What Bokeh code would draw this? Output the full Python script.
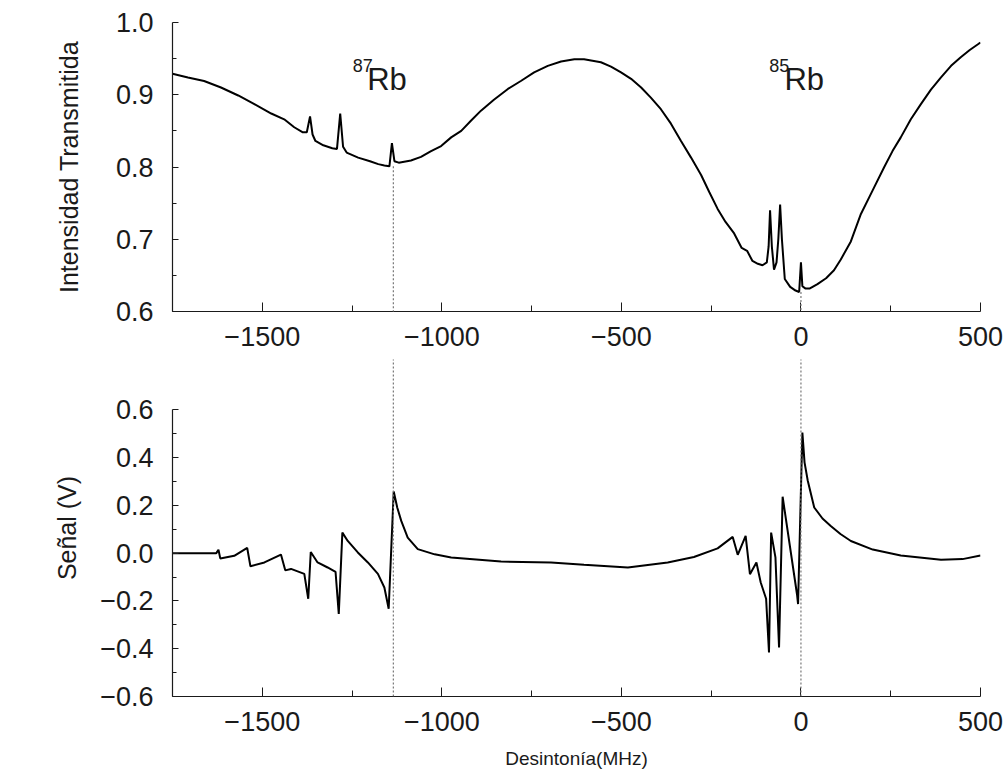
from bokeh.plotting import figure
from bokeh.layouts import column
from bokeh.models import Range1d, FixedTicker, CustomJSTickFormatter, Label, Arrow
from bokeh.embed import file_html
from bokeh.resources import INLINE

# ---------------- data ----------------
top_x = [-1750, -1707, -1662, -1615, -1567, -1522, -1475, -1439, -1411, -1387,
         -1376, -1367, -1360, -1352, -1330, -1305, -1292, -1283, -1275, -1265, -1233,
         -1200, -1177, -1160, -1146, -1139, -1132, -1120, -1086, -1058, -1030, -1002,
         -974, -946, -919, -891, -855, -816, -780, -743, -705, -668, -631, -604, -557,
         -529, -501, -473, -445, -418, -390, -362, -334, -306, -278, -255, -232, -210,
         -186, -165, -150, -135, -120, -107, -95, -90, -86, -81, -75, -68, -63, -58,
         -53, -45, -30, -15, -5, 0, 4, 12, 25, 46, 70, 92, 111, 139, 167, 200, 232,
         255, 278, 306, 334, 362, 390, 418, 445, 470, 496, 500]
top_y = [0.929, 0.924, 0.919, 0.910, 0.899, 0.887, 0.874, 0.866, 0.855, 0.848,
         0.848, 0.870, 0.845, 0.836, 0.830, 0.826, 0.825, 0.874, 0.828, 0.820, 0.813,
         0.808, 0.804, 0.802, 0.801, 0.833, 0.808, 0.806, 0.809, 0.814, 0.822, 0.829,
         0.841, 0.850, 0.864, 0.878, 0.893, 0.908, 0.919, 0.931, 0.940, 0.946, 0.949,
         0.949, 0.945, 0.939, 0.931, 0.922, 0.910, 0.896, 0.880, 0.860, 0.836, 0.813,
         0.789, 0.765, 0.742, 0.724, 0.708, 0.688, 0.684, 0.670, 0.666, 0.664, 0.668,
         0.690, 0.740, 0.690, 0.658, 0.668, 0.700, 0.748, 0.700, 0.645, 0.634, 0.629,
         0.627, 0.668, 0.635, 0.632, 0.632, 0.638, 0.646, 0.657, 0.672, 0.697, 0.735,
         0.768, 0.800, 0.822, 0.841, 0.866, 0.887, 0.907, 0.924, 0.940, 0.952, 0.962,
         0.971, 0.972]

bot_x = [-1750, -1700, -1628, -1622, -1617, -1578, -1542, -1533, -1494, -1448,
         -1436, -1420, -1383, -1372, -1365, -1346, -1318, -1296, -1287, -1277, -1262,
         -1234, -1206, -1178, -1160, -1148, -1134, -1124, -1113, -1095, -1067, -1020,
         -974, -835, -696, -604, -482, -371, -298, -232, -190, -176, -154, -142, -124,
         -112, -97, -89, -83, -71, -61, -51, -11, -8, 4, 10, 19, 37, 60, 83, 110, 139,
         200, 278, 390, 450, 500]
bot_y = [0.000, 0.000, 0.000, 0.014, -0.022, -0.011, 0.022, -0.055, -0.039, -0.006,
         -0.072, -0.066, -0.087, -0.191, 0.005, -0.039, -0.060, -0.078, -0.254, 0.086,
         0.051, 0.003, -0.039, -0.087, -0.144, -0.233, 0.258, 0.190, 0.135, 0.065, 0.017,
         -0.005, -0.018, -0.035, -0.039, -0.049, -0.060, -0.039, -0.016, 0.020, 0.068,
         -0.007, 0.072, -0.088, -0.039, -0.123, -0.191, -0.416, 0.086, -0.018, -0.395,
         0.236, -0.172, -0.213, 0.505, 0.380, 0.303, 0.191, 0.145, 0.114, 0.080, 0.051,
         0.015, -0.010, -0.028, -0.025, -0.010]

# resonance markers (MHz) and where the dotted lines start in panel (a)
marker_x = [-1135, 0]
marker_top_y = [0.801, 0.627]

x_ticks = [-1500, -1000, -500, 0, 500]
x_tick_labels = ["\u22121500", "\u22121000", "\u2212500", "0", "500"]
x_minor = [-1750, -1250, -750, -250, 250]

top_y_ticks = [0.6, 0.7, 0.8, 0.9, 1.0]
top_y_labels = ["0.6", "0.7", "0.8", "0.9", "1.0"]
top_y_minor = [0.65, 0.75, 0.85, 0.95]

bot_y_ticks = [-0.6, -0.4, -0.2, 0.0, 0.2, 0.4, 0.6]
bot_y_labels = ["\u22120.6", "\u22120.4", "\u22120.2", "0.0", "0.2", "0.4", "0.6"]
bot_y_minor = [-0.5, -0.3, -0.1, 0.1, 0.3, 0.5]

FONT = "Liberation Sans"
INK = "#1a1a1a"

JS = """
for (let i = 0; i < tv.length; i++) {
  if (Math.abs(tv[i] - tick) < 1e-6) { return tl[i]; }
}
return "";
"""


def fmt(tick_vals, tick_labels):
    return CustomJSTickFormatter(args=dict(tv=tick_vals, tl=tick_labels), code=JS)


def style(p):
    p.outline_line_color = None
    p.xgrid.visible = False
    p.ygrid.visible = False
    p.background_fill_color = "white"
    p.border_fill_color = "white"
    for ax in p.axis:
        ax.axis_line_color = INK
        ax.axis_line_width = 1.2
        ax.major_tick_line_color = INK
        ax.minor_tick_line_color = INK
        ax.major_tick_out = 0
        ax.minor_tick_out = 0
        ax.major_label_text_font = FONT
        ax.major_label_text_font_size = "27px"
        ax.major_label_text_color = INK
        ax.axis_label_text_font = FONT
        ax.axis_label_text_font_style = "normal"
        ax.axis_label_text_color = INK
    p.xaxis.major_tick_in = 9
    p.xaxis.minor_tick_in = 6
    p.yaxis.major_tick_in = 6
    p.yaxis.minor_tick_in = 4
    p.xaxis.ticker = FixedTicker(ticks=x_ticks, minor_ticks=x_minor)
    p.xaxis.formatter = fmt(x_ticks, x_tick_labels)
    p.xaxis.major_label_standoff = 15
    p.yaxis.major_label_standoff = 19


# ---------------- panel (a) ----------------
p1 = figure(width=1006, height=359, x_range=Range1d(-1750, 500), y_range=Range1d(0.6, 1.0),
            output_backend="svg", toolbar_location=None,
            min_border_left=172, min_border_right=26, min_border_top=22, min_border_bottom=48)
style(p1)
p1.yaxis.ticker = FixedTicker(ticks=top_y_ticks, minor_ticks=top_y_minor)
p1.yaxis.formatter = fmt(top_y_ticks, top_y_labels)
p1.yaxis.axis_label = "Intensidad Transmitida"
p1.yaxis.axis_label_text_font_size = "25px"
p1.yaxis.axis_label_standoff = 30

p1.line(top_x, top_y, line_color="black", line_width=2)

for mx, my in zip(marker_x, marker_top_y):
    p1.add_layout(Arrow(end=None, x_start=mx, y_start=my, x_end=mx, y_end=0.3,
                        line_color="#777777", line_width=1.2, line_dash="2 2"))

p1.add_layout(Label(x=-2152, y=0.774, text="(a)", text_font=FONT, text_font_size="25px",
                    text_color=INK, text_align="center", text_baseline="middle"))
p1.add_layout(Label(x=-1248, y=0.940, text="87", text_font=FONT, text_font_size="18px",
                    text_color=INK, text_align="left", text_baseline="alphabetic"))
p1.add_layout(Label(x=-1208, y=0.921, text="Rb", text_font=FONT, text_font_size="31px",
                    text_color=INK, text_align="left", text_baseline="alphabetic"))
p1.add_layout(Label(x=-88, y=0.940, text="85", text_font=FONT, text_font_size="18px",
                    text_color=INK, text_align="left", text_baseline="alphabetic"))
p1.add_layout(Label(x=-46, y=0.921, text="Rb", text_font=FONT, text_font_size="31px",
                    text_color=INK, text_align="left", text_baseline="alphabetic"))

# ---------------- panel (b) ----------------
p2 = figure(width=1006, height=419, x_range=Range1d(-1750, 500), y_range=Range1d(-0.6, 0.8105),
            output_backend="svg", toolbar_location=None,
            min_border_left=172, min_border_right=26, min_border_top=0, min_border_bottom=82)
style(p2)
p2.yaxis.ticker = FixedTicker(ticks=bot_y_ticks, minor_ticks=bot_y_minor)
p2.yaxis.formatter = fmt(bot_y_ticks, bot_y_labels)
p2.yaxis.bounds = (-0.6, 0.6)
p2.yaxis.axis_label = "Se\u00f1al (V)"
p2.yaxis.axis_label_text_font_size = "25px"
p2.yaxis.axis_label_standoff = 16
p2.xaxis.axis_label = "Desinton\u00eda(MHz)"
p2.xaxis.axis_label_text_font_size = "19px"
p2.xaxis.axis_label_standoff = 14

p2.line(bot_x, bot_y, line_color="black", line_width=2)

for mx in marker_x:
    p2.add_layout(Arrow(end=None, x_start=mx, y_start=1.2, x_end=mx, y_end=-0.6,
                        line_color="#777777", line_width=1.2, line_dash="2 2"))

p2.add_layout(Label(x=-2152, y=0.0, text="(b)", text_font=FONT, text_font_size="25px",
                    text_color=INK, text_align="center", text_baseline="middle"))

layout = column(p1, p2, spacing=0)

with open("out.html", "w") as f:
    f.write(file_html(layout, INLINE))
